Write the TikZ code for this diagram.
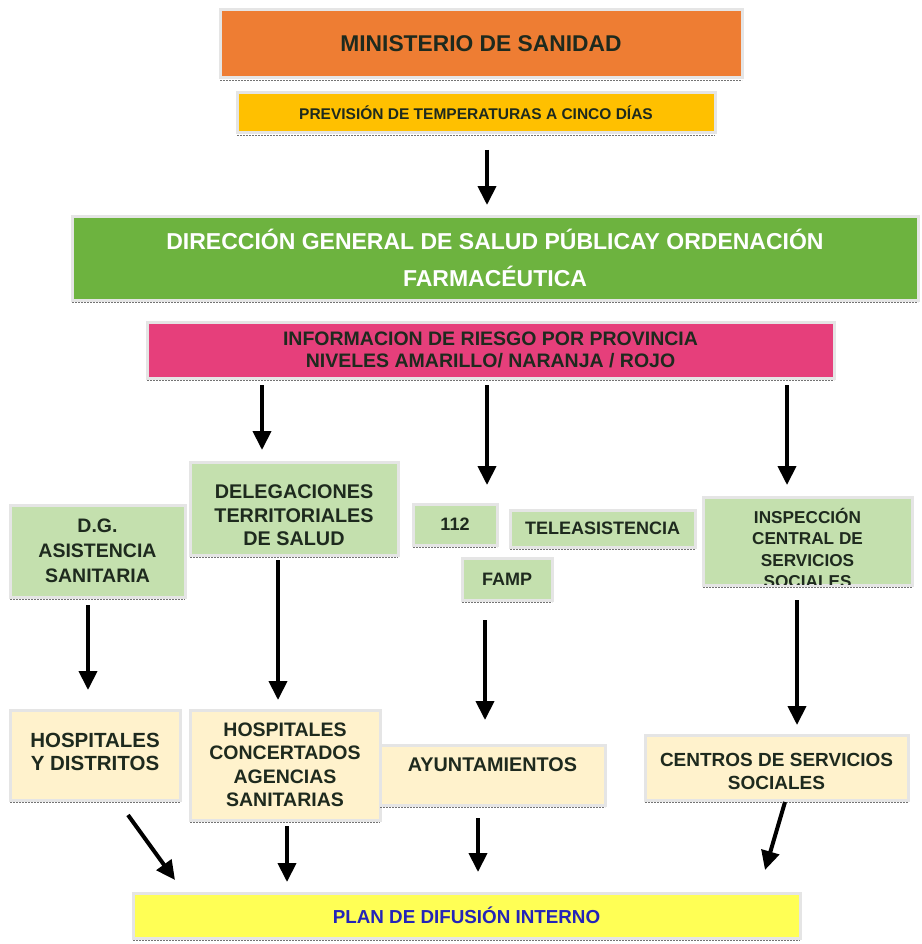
\documentclass[tikz,border=0pt]{standalone}
\usepackage{fontspec}
\setmainfont{Liberation Sans}
\usetikzlibrary{arrows.meta,calc}
\definecolor{cOrange}{HTML}{EE7D33}
\definecolor{cPrev}{HTML}{FFC000}
\definecolor{cGreen}{HTML}{6DB33F}
\definecolor{cPink}{HTML}{E63F7B}
\definecolor{cLight}{HTML}{C4E0AE}
\definecolor{cBeige}{HTML}{FFF2CC}
\definecolor{cYellow}{HTML}{FFFF55}
\definecolor{cText}{HTML}{1E2A1E}
\definecolor{cBlue}{HTML}{2424B8}
\tikzset{
  box/.style={draw=black!10, line width=3pt, outer sep=0pt, inner sep=0pt, align=center,
    font=\bfseries, text=cText},
  txt/.style={inner sep=0pt, align=center, text=cText},
  botline/.style={draw=black!55, line width=1.6pt, dash pattern=on 2pt off 1pt},
  arr/.style={line width=4pt, -{Triangle[length=19pt,width=18pt]}},
}
\begin{document}
\begin{tikzpicture}[x=1pt,y=-1pt]
\useasboundingbox[fill=white] (0,0) rectangle (921,944);

% top
\node[box, fill=cOrange, minimum width=522pt, minimum height=68pt, font=\bfseries\fontsize{22.8}{26}\selectfont] (min) at (481,44) {MINISTERIO DE SANIDAD};
\node[box, fill=cPrev, minimum width=478pt, minimum height=40pt, font=\bfseries\fontsize{15.5}{18}\selectfont] (prev) at (476,113) {PREVISIÓN DE TEMPERATURAS A CINCO DÍAS};
\node[box, fill=cGreen, text=white, minimum width=846pt, minimum height=84pt, font=\bfseries\fontsize{23}{37}\selectfont] (dir) at (495,258) {DIRECCIÓN GENERAL DE SALUD PÚBLICAY ORDENACIÓN\\FARMACÉUTICA};
\node[box, fill=cPink, minimum width=687pt, minimum height=56pt, font=\bfseries\fontsize{19.5}{22}\selectfont] (info) at (490.5,350) {INFORMACION DE RIESGO POR PROVINCIA\\NIVELES AMARILLO/ NARANJA / ROJO};

% middle row
\node[box, fill=cLight, minimum width=175pt, minimum height=92pt, font=\bfseries\fontsize{19.5}{25}\selectfont] (dga) at (97.5,551) {D.G.\\ASISTENCIA\\SANITARIA};
\node[box, fill=cLight, minimum width=208pt, minimum height=93pt] (del) at (294,508.5) {};
\node[txt, font=\bfseries\fontsize{19.8}{23.5}\selectfont] (deltext) at ([yshift=-7pt]del.center) {DELEGACIONES\\TERRITORIALES\\DE SALUD};
\node[box, fill=cLight, minimum width=84pt, minimum height=41pt, font=\bfseries\fontsize{18}{20}\selectfont] (n112) at (455,524.5) {112};
\node[box, fill=cLight, minimum width=185pt, minimum height=37pt, font=\bfseries\fontsize{18}{20}\selectfont] (tele) at (602.5,528.5) {TELEASISTENCIA};
\node[box, fill=cLight, minimum width=90pt, minimum height=42pt, font=\bfseries\fontsize{18}{20}\selectfont] (famp) at (507,579) {FAMP};
\node[box, fill=cLight, minimum width=209pt, minimum height=88pt] (insp) at (807.5,541) {};
\begin{scope}
\clip ($(insp.south west)+(0,-1)$) rectangle (insp.north east);
\node[txt, font=\bfseries\fontsize{17.2}{21.5}\selectfont] (insptext) at (807.5,548) {INSPECCIÓN\\CENTRAL DE\\SERVICIOS\\SOCIALES};
\end{scope}

% lower row
\node[box, fill=cBeige, minimum width=170pt, minimum height=90pt] (hd) at (95,755) {};
\node[txt, font=\bfseries\fontsize{20.5}{23}\selectfont] (hdtext) at ([yshift=3pt]hd.center) {HOSPITALES\\Y DISTRITOS};
\node[box, fill=cBeige, minimum width=190pt, minimum height=110pt, font=\bfseries\fontsize{19.5}{23.5}\selectfont] (hc) at (285,765) {HOSPITALES\\CONCERTADOS\\AGENCIAS\\SANITARIAS};
\node[box, fill=cBeige, minimum width=225pt, minimum height=60pt] (ayu) at (492.5,775) {};
\node[txt, font=\bfseries\fontsize{19.8}{22}\selectfont] (ayutext) at ([yshift=10pt]ayu.center) {AYUNTAMIENTOS};
\node[box, fill=cBeige, minimum width=263pt, minimum height=65pt] (cen) at (776.5,767.5) {};
\node[txt, font=\bfseries\fontsize{19}{23}\selectfont] (centext) at ([yshift=-4pt]cen.center) {CENTROS DE SERVICIOS\\SOCIALES};

% bottom
\node[box, fill=cYellow, text=cBlue, minimum width=667pt, minimum height=45pt, font=\bfseries\fontsize{18.8}{21}\selectfont] (plan) at (466.5,915.5) {PLAN DE DIFUSIÓN INTERNO};

% shadow lines
\foreach \n in {min,prev,dir,info,dga,del,n112,tele,famp,insp,hd,hc,ayu,cen,plan}
  \draw[botline] ([yshift=-2.5pt]\n.south west) -- ([yshift=-2.5pt]\n.south east);

% arrows
\draw[arr] ([xshift=11pt,yshift=-17pt]prev.south) -- ([xshift=-8pt,yshift=11pt]dir.north);
\draw[arr] ([xshift=-228.5pt,yshift=-7pt]info.south) -- ([xshift=-32pt,yshift=12pt]del.north);
\draw[arr] ([xshift=-3.5pt,yshift=-7pt]info.south) -- ([xshift=32pt,yshift=19pt]n112.north);
\draw[arr] ([xshift=296.5pt,yshift=-7pt]info.south) -- ([xshift=-20.5pt,yshift=12pt]insp.north);

\draw[arr] ([xshift=-9.5pt,yshift=-8pt]dga.south) -- ([xshift=-7pt,yshift=20pt]hd.north);
\draw[arr] ([xshift=-16pt,yshift=-5pt]del.south) -- ([xshift=-7pt,yshift=10pt]hc.north);
\draw[arr] ([xshift=-22pt,yshift=-20pt]famp.south) -- ([xshift=-7.5pt,yshift=25pt]ayu.north);
\draw[arr] ([xshift=-10.5pt,yshift=-15pt]insp.south) -- ([xshift=20.5pt,yshift=10pt]cen.north);

\draw[arr] ([xshift=33pt,yshift=-15pt]hd.south) -- ([xshift=-291.5pt,yshift=13pt]plan.north);
\draw[arr] ([xshift=2pt,yshift=-6pt]hc.south) -- ([xshift=-179.5pt,yshift=11pt]plan.north);
\draw[arr] ([xshift=-14.5pt,yshift=-13pt]ayu.south) -- ([xshift=11.5pt,yshift=21pt]plan.north);
\draw[arr] ([xshift=8.5pt,yshift=-2pt]cen.south) -- ([xshift=298.5pt,yshift=23pt]plan.north);
\end{tikzpicture}
\end{document}
